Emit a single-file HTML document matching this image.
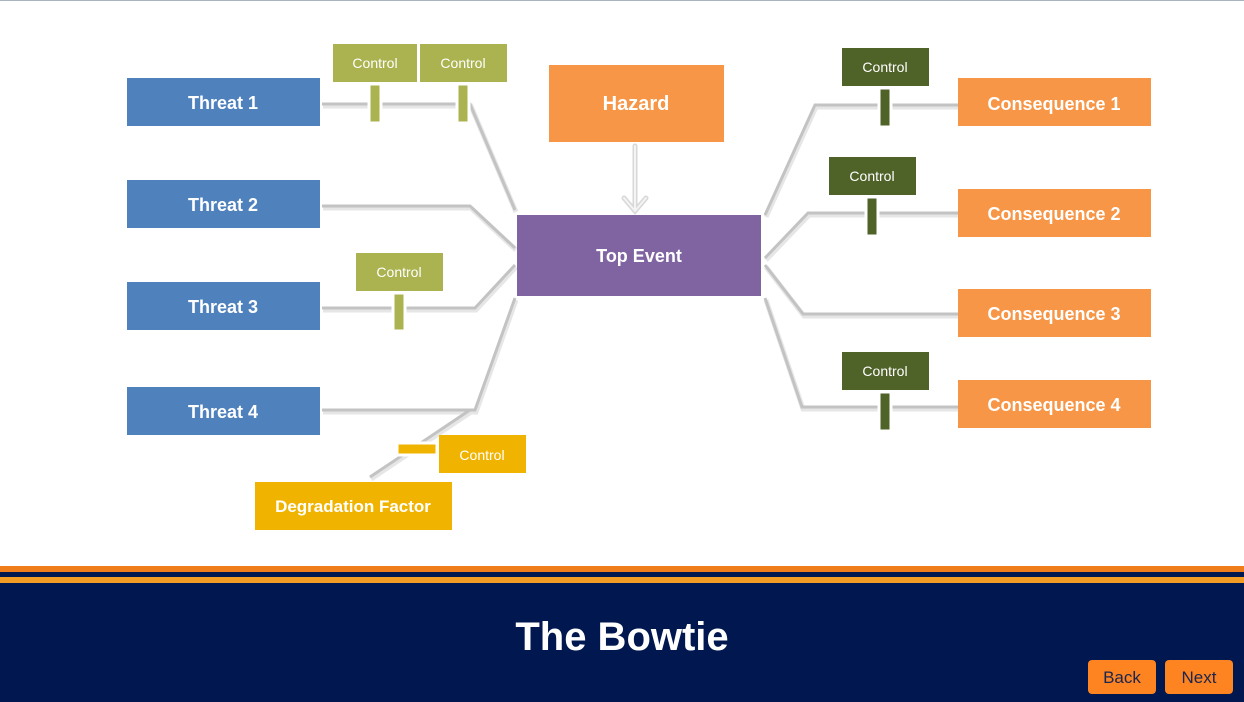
<!DOCTYPE html>
<html><head><meta charset="utf-8"><style>
html,body{margin:0;padding:0;width:1244px;height:702px;overflow:hidden;background:#fff;font-family:"Liberation Sans",sans-serif}
</style></head><body>
<svg width="1244" height="702" viewBox="0 0 1244 702" xmlns="http://www.w3.org/2000/svg" style="position:absolute;left:0;top:0">
<rect x="0" y="0" width="1244" height="1" fill="#a9b3bf"/>
<g fill="none" stroke-linejoin="miter">
<g stroke="#e6e6e6" stroke-width="5" transform="translate(1,2)">
<polyline points="322,104 470,104 515,210"/>
<polyline points="322,206 470,206 515,248"/>
<polyline points="322,308 475,308 515,265"/>
<polyline points="322,410 475,410 515,298"/>
<polyline points="370,477 470,410"/>
<polyline points="765,215 815,105 958,105"/>
<polyline points="765,258 808,213 958,213"/>
<polyline points="765,265 803,314 958,314"/>
<polyline points="765,298 802,407 958,407"/>
</g>
<g stroke="#c3c3c3" stroke-width="3">
<polyline points="322,104 470,104 515,210"/>
<polyline points="322,206 470,206 515,248"/>
<polyline points="322,308 475,308 515,265"/>
<polyline points="322,410 475,410 515,298"/>
<polyline points="370,477 470,410"/>
<polyline points="765,215 815,105 958,105"/>
<polyline points="765,258 808,213 958,213"/>
<polyline points="765,265 803,314 958,314"/>
<polyline points="765,298 802,407 958,407"/>
</g>
</g>
<!-- hazard arrow -->
<g fill="none" stroke-linecap="round">
<path d="M635,146 V210 M624,198 L635,211 L646,198" stroke="#d8d8d8" stroke-width="5"/>
<path d="M635,146 V210 M624,198 L635,211 L646,198" stroke="#f4f4f4" stroke-width="2"/>
</g>
<g font-weight="bold" font-size="18" fill="#fff" text-anchor="middle">
<rect x="127" y="78" width="193" height="48" fill="#4f81bd"/><text x="223" y="109">Threat 1</text>
<rect x="127" y="180" width="193" height="48" fill="#4f81bd"/><text x="223" y="211">Threat 2</text>
<rect x="127" y="282" width="193" height="48" fill="#4f81bd"/><text x="223" y="313">Threat 3</text>
<rect x="127" y="387" width="193" height="48" fill="#4f81bd"/><text x="223" y="418">Threat 4</text>
<rect x="549" y="65" width="175" height="77" fill="#f79646"/><text x="636" y="110" font-size="20">Hazard</text>
<rect x="517" y="215" width="244" height="81" fill="#8064a2"/><text x="639" y="262">Top Event</text>
<rect x="958" y="78" width="193" height="48" fill="#f79646"/><text x="1054" y="110">Consequence 1</text>
<rect x="958" y="189" width="193" height="48" fill="#f79646"/><text x="1054" y="220">Consequence 2</text>
<rect x="958" y="289" width="193" height="48" fill="#f79646"/><text x="1054" y="320">Consequence 3</text>
<rect x="958" y="380" width="193" height="48" fill="#f79646"/><text x="1054" y="411">Consequence 4</text>
<rect x="255" y="482" width="197" height="48" fill="#f0b400"/><text x="353" y="512" font-size="17">Degradation Factor</text>
</g>
<g font-size="14" fill="#fff" text-anchor="middle" stroke="#fff" stroke-width="0">
<rect x="333" y="44" width="84" height="38" fill="#aab34f"/><text x="375" y="68">Control</text>
<rect x="420" y="44" width="87" height="38" fill="#aab34f"/><text x="463" y="68">Control</text>
<rect x="356" y="253" width="87" height="38" fill="#aab34f"/><text x="399" y="277">Control</text>
<rect x="842" y="48" width="87" height="38" fill="#4f6228"/><text x="885" y="72">Control</text>
<rect x="829" y="157" width="87" height="38" fill="#4f6228"/><text x="872" y="181">Control</text>
<rect x="842" y="352" width="87" height="38" fill="#4f6228"/><text x="885" y="376">Control</text>
<rect x="439" y="435" width="87" height="38" fill="#f0b400"/><text x="482" y="460">Control</text>
</g>
<g stroke="#fff" stroke-width="3">
<rect x="369" y="84" width="12" height="39" fill="#aab34f"/>
<rect x="457" y="84" width="12" height="39" fill="#aab34f"/>
<rect x="393" y="293" width="12" height="38" fill="#aab34f"/>
<rect x="879" y="88" width="12" height="39" fill="#4f6228"/>
<rect x="866" y="197" width="12" height="39" fill="#4f6228"/>
<rect x="879" y="392" width="12" height="39" fill="#4f6228"/>
<rect x="397" y="443" width="40" height="12" fill="#f0b400"/>
</g>
<!-- footer -->
<rect x="0" y="566" width="1244" height="136" fill="#00174f"/>
<rect x="0" y="566" width="1244" height="6" fill="#ef7d1a"/>
<rect x="0" y="577" width="1244" height="6" fill="#f39c25"/>
<text x="622" y="650" text-anchor="middle" font-size="40" font-weight="bold" fill="#fff">The Bowtie</text>
<rect x="1088" y="660" width="68" height="34" rx="4" fill="#fd8421"/>
<text x="1122" y="683" text-anchor="middle" font-size="17" fill="#1a2550">Back</text>
<rect x="1165" y="660" width="68" height="34" rx="4" fill="#fd8421"/>
<text x="1199" y="683" text-anchor="middle" font-size="17" fill="#1a2550">Next</text>
</svg>
</body></html>
